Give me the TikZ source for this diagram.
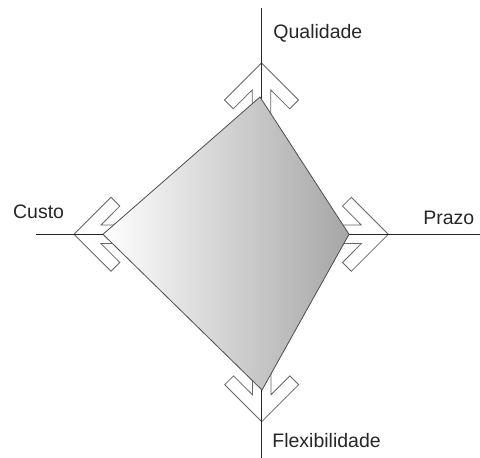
\documentclass[tikz,border=0pt]{standalone}
\usepackage{fontspec}
\setmainfont{Liberation Sans}
\usetikzlibrary{positioning}

\begin{document}
\begin{tikzpicture}[x=1pt,y=1pt,line width=0.8pt,
  axisline/.style={draw=black!85},
  chevbox/.style={draw=black!60,fill=white,line join=miter},
  kite/.style={draw=black!70,left color=white,right color=black!35},
  axlabel/.style={inner sep=0pt,anchor=base west,text=black!85,
    font=\fontsize{19.5}{22}\selectfont}]
% one chevron drawn from its tip (0,0), pointing up
\newcommand{\chev}{%
  \draw[chevbox] (0,0) -- (37,-37) -- (28.2,-45.8) -- (9.3,-27) -- (9.3,-60)
    -- (-9.3,-60) -- (-9.3,-27) -- (-28.2,-45.8) -- (-37,-37) -- cycle;
}
\useasboundingbox (0,0) rectangle (480,458);
% --- axis ends and kite corners ---
\coordinate (qend) at (261.5,450);
\coordinate (fend) at (261.5,0);
\coordinate (cend) at (35.7,223.7);
\coordinate (pend) at (480,223.7);
\coordinate (qk) at (260,361);   % quality
\coordinate (pk) at (349,223.7); % lead time
\coordinate (fk) at (262,68);    % flexibility
\coordinate (ck) at (103,223.7); % cost
% --- chevrons ---
\begin{scope}[shift={(261.5,395)}]\chev\end{scope}
\begin{scope}[shift={(388.3,223.7)},rotate=-90]\chev\end{scope}
\begin{scope}[shift={(261.7,36.3)},rotate=180]\chev\end{scope}
\begin{scope}[shift={(74,223.7)},rotate=90]\chev\end{scope}
% --- axes ---
\draw[axisline] (qend) -- (fend);
\draw[axisline] (cend) -- (pend);
% --- kite ---
\draw[kite] (qk) -- (pk) -- (fk) -- (ck) -- cycle;
% --- labels ---
\node[axlabel] (qual) at (273,419.5) {Qualidade};
\node[axlabel] (custo) at (12.7,239.7) {Custo};
\node[axlabel] (prazo) at (423,233.7) {Prazo};
\node[axlabel] (flex) at (272,10) {Flexibilidade};
\end{tikzpicture}
\end{document}
